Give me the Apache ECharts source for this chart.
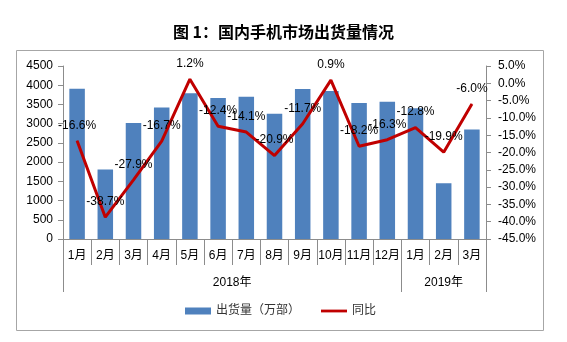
<!DOCTYPE html>
<html>
<head>
<meta charset="utf-8">
<script src="https://cdn.jsdelivr.net/npm/echarts@6/dist/echarts.min.js"></script>
<style>
  html, body { margin: 0; padding: 0; background: #fff; }
  #chart { width: 567px; height: 342px; }
</style>
</head>
<body>
<div id="chart"></div>
<script>
// Monthly domestic handset shipments (10k units) and year-on-year change (%)
const months = ['1月', '2月', '3月', '4月', '5月', '6月', '7月', '8月', '9月', '10月', '11月', '12月', '1月', '2月', '3月'];
const shipments = [3910, 1810, 3020, 3420, 3790, 3670, 3700, 3260, 3900, 3850, 3540, 3570, 3400, 1450, 2850];
const yoy = [-16.6, -38.7, -27.9, -16.7, 1.2, -12.4, -14.1, -20.9, -11.7, 0.9, -18.2, -16.3, -12.8, -19.9, -6.0];
const years = ['2018年', '2019年'];
const monthsPerYear = [12, 3];

// Year group boundaries and centres along the month axis
const yearBounds = [0];
monthsPerYear.forEach(n => yearBounds.push(yearBounds[yearBounds.length - 1] + n));
const yearCentres = years.map((_, i) => (yearBounds[i] + yearBounds[i + 1]) / 2);

const FONT = '"Liberation Sans", "Noto Sans CJK SC", sans-serif';
const AXIS_GREY = '#8C8C8C';

const chart = echarts.init(document.getElementById('chart'), null, { renderer: 'canvas' });
chart.setOption({
  animation: false,
  backgroundColor: '#fff',
  title: {
    text: '图 1：国内手机市场出货量情况',
    left: 'center',
    top: 19,
    textStyle: { fontFamily: '"Noto Sans CJK SC", sans-serif', fontSize: 16, fontWeight: 'bold', color: '#000' }
  },
  graphic: [{
    type: 'rect',
    shape: { x: 16.5, y: 50.5, width: 527, height: 280 },
    style: { fill: 'none', stroke: '#A6A6A6', lineWidth: 1 },
    silent: true,
    z: -1
  }],
  legend: {
    left: 180,
    top: 300,
    itemWidth: 26,
    itemHeight: 7,
    itemGap: 21,
    textStyle: { fontFamily: FONT, fontSize: 12, color: '#333' },
    data: [
      { name: '出货量（万部）', icon: 'rect' },
      { name: '同比', icon: 'path://M0,0 L28,0 L28,3 L0,3 Z' }
    ]
  },
  grid: { left: 63, right: 81, top: 66, bottom: 103, containLabel: false },
  xAxis: [{
    type: 'category',
    data: months,
    boundaryGap: true,
    axisLine: { show: true, onZero: false, lineStyle: { color: AXIS_GREY, width: 1 } },
    axisTick: { show: true, interval: 0, length: 26, lineStyle: { color: AXIS_GREY } },
    axisLabel: { interval: 0, margin: 11, fontFamily: FONT, fontSize: 12, color: '#000' }
  }, {
    type: 'value',
    min: 0,
    max: monthsPerYear.reduce((a, b) => a + b, 0),
    position: 'bottom',
    offset: 26,
    axisLine: { show: false, onZero: false },
    splitLine: { show: false },
    axisTick: { show: true, customValues: yearBounds, length: 27, lineStyle: { color: AXIS_GREY } },
    axisLabel: {
      customValues: yearCentres,
      margin: 12,
      fontFamily: FONT,
      fontSize: 12,
      color: '#000',
      formatter: v => years[yearCentres.indexOf(v)] || ''
    }
  }],
  yAxis: [{
    type: 'value',
    min: 0,
    max: 4500,
    interval: 500,
    position: 'left',
    splitLine: { show: false },
    axisLine: { show: true, onZero: false, lineStyle: { color: AXIS_GREY } },
    axisTick: { show: true, length: 5, lineStyle: { color: AXIS_GREY } },
    axisLabel: { margin: 10, fontFamily: FONT, fontSize: 12, color: '#000', formatter: v => String(v) }
  }, {
    type: 'value',
    min: -45,
    max: 5,
    interval: 5,
    position: 'right',
    splitLine: { show: false },
    axisLine: { show: true, onZero: false, lineStyle: { color: AXIS_GREY } },
    axisTick: { show: true, length: 5, lineStyle: { color: AXIS_GREY } },
    axisLabel: { margin: 12, fontFamily: FONT, fontSize: 12, color: '#000', formatter: v => v.toFixed(1) + '%' }
  }],
  series: [{
    name: '出货量（万部）',
    type: 'bar',
    xAxisIndex: 0,
    yAxisIndex: 0,
    data: shipments,
    barWidth: '55%',
    itemStyle: { color: '#4F81BD' }
  }, {
    name: '同比',
    type: 'line',
    xAxisIndex: 0,
    yAxisIndex: 1,
    data: yoy,
    symbol: 'circle',
    symbolSize: 1,
    showSymbol: true,
    lineStyle: { color: '#C00000', width: 3 },
    itemStyle: { color: '#C00000' },
    label: {
      show: true,
      position: 'top',
      distance: 9,
      fontFamily: FONT,
      fontSize: 12,
      color: '#000',
      formatter: p => p.value.toFixed(1) + '%'
    },
    z: 3
  }]
});
</script>
</body>
</html>
